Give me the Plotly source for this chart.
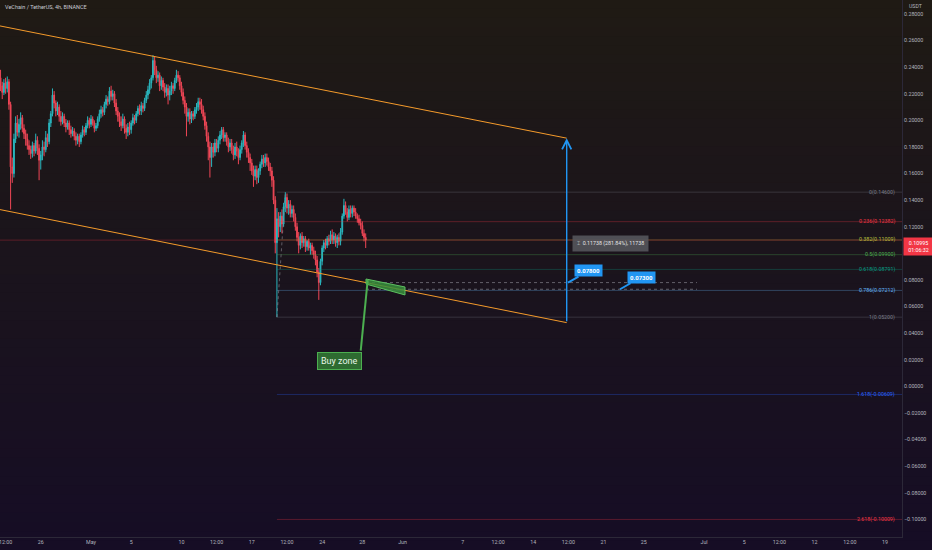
import plotly.graph_objects as go
from datetime import datetime, timedelta

# ---------------- data (4h candles, VET/USDT) ----------------
start_time = datetime(2021, 4, 22, 0, 0)

opens = [
    0.232, 0.226, 0.221, 0.228, 0.224, 0.229,   # Apr 22
    0.212, 0.165, 0.160, 0.186, 0.198, 0.191,   # Apr 23
    0.197, 0.202, 0.194, 0.190, 0.186, 0.181,   # Apr 24
    0.178, 0.175, 0.181, 0.177, 0.185, 0.179,   # Apr 25
    0.170, 0.174, 0.180, 0.178, 0.187, 0.184,   # Apr 26
    0.198, 0.205, 0.219, 0.213, 0.207, 0.210,   # Apr 27
    0.203, 0.199, 0.203, 0.198, 0.195, 0.198,   # Apr 28
    0.193, 0.190, 0.192, 0.188, 0.185, 0.188,   # Apr 29
    0.184, 0.189, 0.193, 0.191, 0.196, 0.200,   # Apr 30
    0.197, 0.201, 0.198, 0.194, 0.196, 0.201,   # May 1
    0.205, 0.208, 0.206, 0.212, 0.216, 0.214,   # May 2
    0.222, 0.218, 0.220, 0.213, 0.207, 0.203,   # May 3
    0.199, 0.196, 0.201, 0.194, 0.191, 0.195,   # May 4
    0.193, 0.198, 0.202, 0.200, 0.205, 0.209,   # May 5
    0.207, 0.211, 0.209, 0.215, 0.219, 0.223,   # May 6
    0.228, 0.232, 0.245, 0.238, 0.232, 0.234,   # May 7
    0.226, 0.230, 0.225, 0.221, 0.224, 0.219,   # May 8
    0.222, 0.226, 0.224, 0.230, 0.234, 0.232,   # May 9
    0.226, 0.221, 0.215, 0.210, 0.203, 0.206,   # May 10
    0.201, 0.205, 0.203, 0.208, 0.210, 0.214,   # May 11
    0.212, 0.208, 0.203, 0.196, 0.188, 0.180,   # May 12
    0.172, 0.180, 0.176, 0.183, 0.179, 0.185,   # May 13
    0.189, 0.193, 0.187, 0.189, 0.184, 0.180,   # May 14
    0.183, 0.178, 0.174, 0.180, 0.177, 0.172,   # May 15
    0.178, 0.183, 0.189, 0.181, 0.176, 0.172,   # May 16
    0.168, 0.162, 0.158, 0.163, 0.157, 0.162,   # May 17
    0.167, 0.171, 0.168, 0.172, 0.169, 0.165,   # May 18
    0.162, 0.155, 0.140, 0.108, 0.126, 0.120,   # May 19
    0.128, 0.122, 0.135, 0.142, 0.134, 0.137,   # May 20
    0.130, 0.133, 0.127, 0.120, 0.112, 0.106,   # May 21
    0.113, 0.108, 0.111, 0.105, 0.109, 0.104,   # May 22
    0.106, 0.102, 0.099, 0.095, 0.086, 0.078,   # May 23
    0.094, 0.104, 0.108, 0.106, 0.111, 0.109,   # May 24
    0.114, 0.110, 0.113, 0.108, 0.112, 0.109,   # May 25
    0.116, 0.128, 0.136, 0.131, 0.127, 0.133,   # May 26
    0.130, 0.134, 0.131, 0.128, 0.126, 0.123,   # May 27
    0.121, 0.115, 0.112,                        # May 28
]
highs = [
    0.238, 0.229, 0.231, 0.232, 0.233, 0.231,
    0.214, 0.172, 0.190, 0.203, 0.204, 0.201,
    0.206, 0.204, 0.197, 0.193, 0.190, 0.185,
    0.181, 0.184, 0.183, 0.190, 0.188, 0.182,
    0.177, 0.185, 0.184, 0.192, 0.190, 0.201,
    0.207, 0.224, 0.222, 0.215, 0.214, 0.212,
    0.207, 0.206, 0.205, 0.201, 0.200, 0.200,
    0.196, 0.195, 0.194, 0.191, 0.190, 0.190,
    0.191, 0.196, 0.195, 0.198, 0.203, 0.202,
    0.204, 0.203, 0.200, 0.198, 0.203, 0.208,
    0.211, 0.210, 0.214, 0.219, 0.218, 0.225,
    0.226, 0.223, 0.222, 0.216, 0.210, 0.206,
    0.203, 0.205, 0.203, 0.197, 0.198, 0.199,
    0.200, 0.205, 0.204, 0.207, 0.211, 0.212,
    0.214, 0.213, 0.217, 0.222, 0.226, 0.231,
    0.234, 0.249, 0.248, 0.241, 0.237, 0.236,
    0.233, 0.232, 0.228, 0.227, 0.227, 0.226,
    0.229, 0.228, 0.232, 0.238, 0.237, 0.234,
    0.229, 0.224, 0.218, 0.213, 0.209, 0.209,
    0.207, 0.207, 0.210, 0.213, 0.217, 0.217,
    0.216, 0.211, 0.206, 0.199, 0.191, 0.184,
    0.183, 0.183, 0.186, 0.186, 0.188, 0.192,
    0.195, 0.195, 0.191, 0.191, 0.187, 0.186,
    0.186, 0.181, 0.183, 0.184, 0.179, 0.181,
    0.185, 0.192, 0.191, 0.184, 0.179, 0.175,
    0.171, 0.166, 0.166, 0.166, 0.164, 0.169,
    0.174, 0.174, 0.175, 0.175, 0.172, 0.168,
    0.165, 0.158, 0.143, 0.134, 0.131, 0.131,
    0.133, 0.138, 0.146, 0.145, 0.140, 0.140,
    0.136, 0.136, 0.130, 0.123, 0.116, 0.115,
    0.116, 0.113, 0.113, 0.110, 0.111, 0.108,
    0.108, 0.105, 0.102, 0.098, 0.089, 0.096,
    0.106, 0.110, 0.111, 0.113, 0.114, 0.117,
    0.118, 0.116, 0.115, 0.114, 0.115, 0.119,
    0.130, 0.141, 0.139, 0.134, 0.136, 0.136,
    0.136, 0.136, 0.134, 0.130, 0.129, 0.126,
    0.124, 0.118, 0.115,
]
lows = [
    0.222, 0.216, 0.219, 0.220, 0.221, 0.208,
    0.133, 0.153, 0.157, 0.183, 0.188, 0.187,
    0.193, 0.191, 0.186, 0.181, 0.178, 0.174,
    0.171, 0.172, 0.173, 0.175, 0.174, 0.155,
    0.163, 0.170, 0.173, 0.176, 0.180, 0.182,
    0.195, 0.203, 0.209, 0.203, 0.204, 0.199,
    0.196, 0.197, 0.195, 0.191, 0.193, 0.189,
    0.187, 0.188, 0.185, 0.181, 0.182, 0.180,
    0.182, 0.187, 0.188, 0.189, 0.194, 0.194,
    0.195, 0.196, 0.191, 0.192, 0.194, 0.199,
    0.202, 0.203, 0.204, 0.209, 0.211, 0.212,
    0.215, 0.215, 0.210, 0.204, 0.199, 0.195,
    0.192, 0.194, 0.190, 0.186, 0.188, 0.189,
    0.190, 0.196, 0.197, 0.198, 0.203, 0.204,
    0.204, 0.206, 0.207, 0.213, 0.216, 0.220,
    0.224, 0.230, 0.234, 0.228, 0.229, 0.222,
    0.223, 0.222, 0.217, 0.218, 0.212, 0.215,
    0.219, 0.220, 0.222, 0.228, 0.229, 0.223,
    0.218, 0.212, 0.205, 0.188, 0.199, 0.197,
    0.198, 0.200, 0.201, 0.205, 0.207, 0.208,
    0.205, 0.200, 0.193, 0.184, 0.170, 0.157,
    0.165, 0.172, 0.173, 0.176, 0.176, 0.182,
    0.186, 0.184, 0.184, 0.181, 0.176, 0.177,
    0.175, 0.170, 0.171, 0.173, 0.167, 0.170,
    0.175, 0.180, 0.178, 0.172, 0.168, 0.162,
    0.159, 0.150, 0.155, 0.152, 0.153, 0.159,
    0.164, 0.165, 0.165, 0.166, 0.162, 0.158,
    0.150, 0.137, 0.100, 0.052, 0.112, 0.116,
    0.115, 0.120, 0.131, 0.130, 0.129, 0.127,
    0.127, 0.124, 0.117, 0.109, 0.100, 0.103,
    0.104, 0.105, 0.101, 0.102, 0.102, 0.099,
    0.099, 0.096, 0.091, 0.082, 0.065, 0.076,
    0.091, 0.101, 0.103, 0.104, 0.106, 0.107,
    0.107, 0.107, 0.105, 0.104, 0.106, 0.106,
    0.114, 0.126, 0.129, 0.124, 0.125, 0.127,
    0.127, 0.128, 0.126, 0.123, 0.121, 0.118,
    0.113, 0.109, 0.104,
]
closes = [
    0.226, 0.221, 0.228, 0.224, 0.229, 0.212,
    0.165, 0.160, 0.186, 0.198, 0.191, 0.197,
    0.202, 0.194, 0.190, 0.186, 0.181, 0.178,
    0.175, 0.181, 0.177, 0.185, 0.179, 0.170,
    0.174, 0.180, 0.178, 0.187, 0.184, 0.198,
    0.205, 0.219, 0.213, 0.207, 0.210, 0.203,
    0.199, 0.203, 0.198, 0.195, 0.198, 0.193,
    0.190, 0.192, 0.188, 0.185, 0.188, 0.184,
    0.189, 0.193, 0.191, 0.196, 0.200, 0.197,
    0.201, 0.198, 0.194, 0.196, 0.201, 0.205,
    0.208, 0.206, 0.212, 0.216, 0.214, 0.222,
    0.218, 0.220, 0.213, 0.207, 0.203, 0.199,
    0.196, 0.201, 0.194, 0.191, 0.195, 0.193,
    0.198, 0.202, 0.200, 0.205, 0.209, 0.207,
    0.211, 0.209, 0.215, 0.219, 0.223, 0.228,
    0.232, 0.245, 0.238, 0.232, 0.234, 0.226,
    0.230, 0.225, 0.221, 0.224, 0.219, 0.222,
    0.226, 0.224, 0.230, 0.234, 0.232, 0.226,
    0.221, 0.215, 0.210, 0.203, 0.206, 0.201,
    0.205, 0.203, 0.208, 0.210, 0.214, 0.212,
    0.208, 0.203, 0.196, 0.188, 0.180, 0.172,
    0.180, 0.176, 0.183, 0.179, 0.185, 0.189,
    0.193, 0.187, 0.189, 0.184, 0.180, 0.183,
    0.178, 0.174, 0.180, 0.177, 0.172, 0.178,
    0.183, 0.189, 0.181, 0.176, 0.172, 0.168,
    0.162, 0.158, 0.163, 0.157, 0.162, 0.167,
    0.171, 0.168, 0.172, 0.169, 0.165, 0.162,
    0.155, 0.140, 0.108, 0.126, 0.120, 0.128,
    0.122, 0.135, 0.142, 0.134, 0.137, 0.130,
    0.133, 0.127, 0.120, 0.112, 0.106, 0.113,
    0.108, 0.111, 0.105, 0.109, 0.104, 0.106,
    0.102, 0.099, 0.095, 0.086, 0.078, 0.094,
    0.104, 0.108, 0.106, 0.111, 0.109, 0.114,
    0.110, 0.113, 0.108, 0.112, 0.109, 0.116,
    0.128, 0.136, 0.131, 0.127, 0.133, 0.130,
    0.134, 0.131, 0.128, 0.126, 0.123, 0.121,
    0.115, 0.112, 0.10995,
]
times = [start_time + timedelta(hours=4 * i) for i in range(len(closes))]
last_price = 0.10995

# axis ticks
x_tickvals = ["2021-04-22 12:00", "2021-04-26", "2021-05-01", "2021-05-05", "2021-05-10",
              "2021-05-13 12:00", "2021-05-17", "2021-05-20 12:00", "2021-05-24", "2021-05-28",
              "2021-06-01", "2021-06-07", "2021-06-10 12:00", "2021-06-14", "2021-06-17 12:00",
              "2021-06-21", "2021-06-25", "2021-07-01", "2021-07-05", "2021-07-08 12:00",
              "2021-07-12", "2021-07-15 12:00", "2021-07-19"]
x_ticktext = ["12:00", "26", "May", "5", "10", "12:00", "17", "12:00", "24", "28", "Jun", "7",
              "12:00", "14", "12:00", "21", "25", "Jul", "5", "12:00", "12", "12:00", "19"]
y_tickvals = [-0.10, -0.08, -0.06, -0.04, -0.02, 0.0, 0.02, 0.04, 0.06, 0.08, 0.10,
              0.12, 0.14, 0.16, 0.18, 0.20, 0.22, 0.24, 0.26, 0.28]
x_range = ["2021-04-21 22:41", "2021-07-20 16:44"]
y_range = [-0.1133, 0.2905]

# drawings (data units)
channel_x = ["2021-04-21 22:41", "2021-06-17 08:00"]
channel_upper = [0.2710, 0.1866]
channel_lower = [0.1329, 0.0479]

fib_start = "2021-05-19 12:00"
fib_levels = ["0", "0.236", "0.382", "0.5", "0.618", "0.786", "1", "1.618", "2.618"]
fib_prices = [0.14600, 0.12382, 0.11009, 0.09900, 0.08791, 0.07212, 0.05200, -0.00609, -0.10009]
fib_colors = ["#787b86", "#f23645", "#b5bf3c", "#4caf50", "#089981", "#64b5f6", "#787b86", "#2962ff", "#f23645"]
fib_trend_x = ["2021-05-19 12:00", "2021-05-20 08:00"]
fib_trend_y = [0.052, 0.146]

zone_x = ["2021-05-28 08:43", "2021-06-01 05:51", "2021-06-01 05:51", "2021-05-28 08:43", "2021-05-28 08:43"]
zone_y = [0.0807, 0.0747, 0.0687, 0.0769, 0.0807]
zone_link_x = ["2021-05-28 12:45", "2021-05-27 20:08"]
zone_link_y = [0.0799, 0.0268]
zone_label_pos = ("2021-05-25 17:30", 0.0190)

target_levels = [0.078, 0.073]
target_x = ["2021-05-28 08:43", "2021-06-30 07:10"]
target_tips = [("2021-06-17 11:04", 0.078), ("2021-06-22 15:21", 0.073)]
target_texts = ["0.07800", "0.07300"]

arrow_x = "2021-06-17 08:00"
arrow_from, arrow_to = 0.0479, 0.1866
measure_pos = ("2021-06-21 15:25", 0.1077)
measure_text = "⌶  0.11738 (281.84%), 11738"

FONT = "Roboto"
TXT = "#b2b5be"
UP = "#2ab7bf"
DOWN = "#ef4656"

fig = go.Figure()

# background gradient (style only)
top_c = (31, 26, 20)
bot_c = (22, 13, 37)
N = 60
y_bottom_paper = -13 / 537
for i in range(N):
    t = i / (N - 1)
    c = tuple(int(round(top_c[k] + (bot_c[k] - top_c[k]) * t)) for k in range(3))
    y1 = 1 - (1 - y_bottom_paper) * i / N
    y0 = 1 - (1 - y_bottom_paper) * (i + 1) / N
    fig.add_shape(type="rect", xref="paper", yref="paper", x0=0, x1=932 / 902,
                  y0=y0 - 0.001, y1=y1 + 0.001, line_width=0,
                  fillcolor="rgb(%d,%d,%d)" % c, layer="below")

# fib lines
for lvl, p, col in zip(fib_levels, fib_prices, fib_colors):
    fig.add_trace(go.Scatter(x=[fib_start, x_range[1]], y=[p, p], mode="lines",
                             line=dict(color=col, width=1), opacity=0.3,
                             hoverinfo="skip", showlegend=False))
    fig.add_annotation(xref="paper", yref="y", x=897 / 902, y=p, xanchor="right", yanchor="middle",
                       text="%s(%.5f)" % (lvl, p), showarrow=False,
                       font=dict(family=FONT, size=5.3, color=col))

fig.add_trace(go.Scatter(x=fib_trend_x, y=fib_trend_y, mode="lines",
                         line=dict(color="rgba(140,140,150,0.6)", width=1, dash="dot"),
                         hoverinfo="skip", showlegend=False))

# last price line
fig.add_trace(go.Scatter(x=x_range, y=[last_price, last_price], mode="lines",
                         line=dict(color="rgba(242,54,69,0.3)", width=1),
                         hoverinfo="skip", showlegend=False))

# target dashed lines
for lv in target_levels:
    fig.add_trace(go.Scatter(x=target_x, y=[lv, lv], mode="lines",
                             line=dict(color="rgba(160,160,170,0.55)", width=1, dash="dot"),
                             hoverinfo="skip", showlegend=False))

# channel
for yy in (channel_upper, channel_lower):
    fig.add_trace(go.Scatter(x=channel_x, y=yy, mode="lines",
                             line=dict(color="#f59b2b", width=1),
                             hoverinfo="skip", showlegend=False))

# candles
fig.add_trace(go.Candlestick(
    x=times, open=opens, high=highs, low=lows, close=closes,
    increasing=dict(line=dict(color=UP, width=1), fillcolor=UP),
    decreasing=dict(line=dict(color=DOWN, width=1), fillcolor=DOWN),
    whiskerwidth=0, showlegend=False, hoverinfo="skip"))

# buy zone
fig.add_trace(go.Scatter(x=zone_x, y=zone_y, mode="lines", fill="toself",
                         fillcolor="rgba(56,142,60,0.85)", line=dict(color="#5cbf60", width=1),
                         hoverinfo="skip", showlegend=False))
fig.add_trace(go.Scatter(x=zone_link_x, y=zone_link_y, mode="lines",
                         line=dict(color="#4caf50", width=2),
                         hoverinfo="skip", showlegend=False))
fig.add_annotation(x=zone_label_pos[0], y=zone_label_pos[1], text="Buy zone", showarrow=False,
                   font=dict(family=FONT, size=9, color="#e8f5e9"),
                   bgcolor="#2e6b31", bordercolor="#4caf50", borderwidth=1, borderpad=3)

# blue vertical arrow
fig.add_annotation(x=arrow_x, y=arrow_to, ax=arrow_x, ay=arrow_from, axref="x", ayref="y",
                   xref="x", yref="y", text="", showarrow=True, arrowhead=5, arrowsize=1.3,
                   arrowwidth=1.4, arrowcolor="#2196f3")

# measure label
fig.add_annotation(x=measure_pos[0], y=measure_pos[1], text=measure_text, showarrow=False,
                   font=dict(family=FONT, size=5.3, color="#e6e6e6"),
                   bgcolor="rgba(85,85,92,0.9)", borderpad=4)

# price callouts
for (tx, ty), txt in zip(target_tips, target_texts):
    fig.add_annotation(x=tx, y=ty, text="<b>%s</b>" % txt, showarrow=True, arrowhead=0,
                       arrowwidth=2, arrowcolor="#2196f3", ax=21, ay=-12,
                       font=dict(family=FONT, size=6, color="white"),
                       bgcolor="#2196f3", borderpad=2)

# title, axis unit and price tag
fig.add_annotation(xref="paper", yref="paper", x=3 / 902, y=(537 - 7) / 537, xanchor="left",
                   yanchor="middle", text="VeChain / TetherUS, 4h, BINANCE", showarrow=False,
                   font=dict(family=FONT, size=5.5, color="#c8cad2"))
fig.add_annotation(xref="paper", yref="paper", x=915 / 902, y=(537 - 6) / 537, xanchor="center",
                   yanchor="middle", text="USDT", showarrow=False,
                   font=dict(family=FONT, size=5.2, color=TXT))
fig.add_annotation(xref="paper", yref="y", x=903 / 902, y=last_price, xanchor="left", yanchor="top",
                   yshift=3, text="%.5f<br>01:06:32" % last_price, showarrow=False, align="center",
                   font=dict(family=FONT, size=5.3, color="white"),
                   bgcolor="#f23645", borderpad=2, width=25)

fig.update_layout(
    width=932, height=550,
    margin=dict(l=0, r=30, t=0, b=13, pad=0, autoexpand=False),
    paper_bgcolor="rgb(22,13,37)", plot_bgcolor="rgba(0,0,0,0)",
    showlegend=False, hovermode=False,
    xaxis=dict(type="date", range=x_range, tickvals=x_tickvals, ticktext=x_ticktext,
               showgrid=False, zeroline=False, showline=True, linecolor="#2c2838", linewidth=1,
               ticks="", tickfont=dict(family=FONT, size=5.3, color=TXT), automargin=False,
               ticklabeloverflow="allow", rangeslider=dict(visible=False), fixedrange=True),
    yaxis=dict(side="right", range=y_range, tickvals=y_tickvals, tickformat=".5f",
               showgrid=False, zeroline=False, showline=True, linecolor="#2c2838", linewidth=1,
               ticks="", tickfont=dict(family=FONT, size=5.3, color=TXT), automargin=False,
               ticklabeloverflow="allow", fixedrange=True),
)

fig.write_html("out.html", config={"displayModeBar": False},
               post_script="document.body.style.margin='0';document.body.style.background='rgb(22,13,37)';")
